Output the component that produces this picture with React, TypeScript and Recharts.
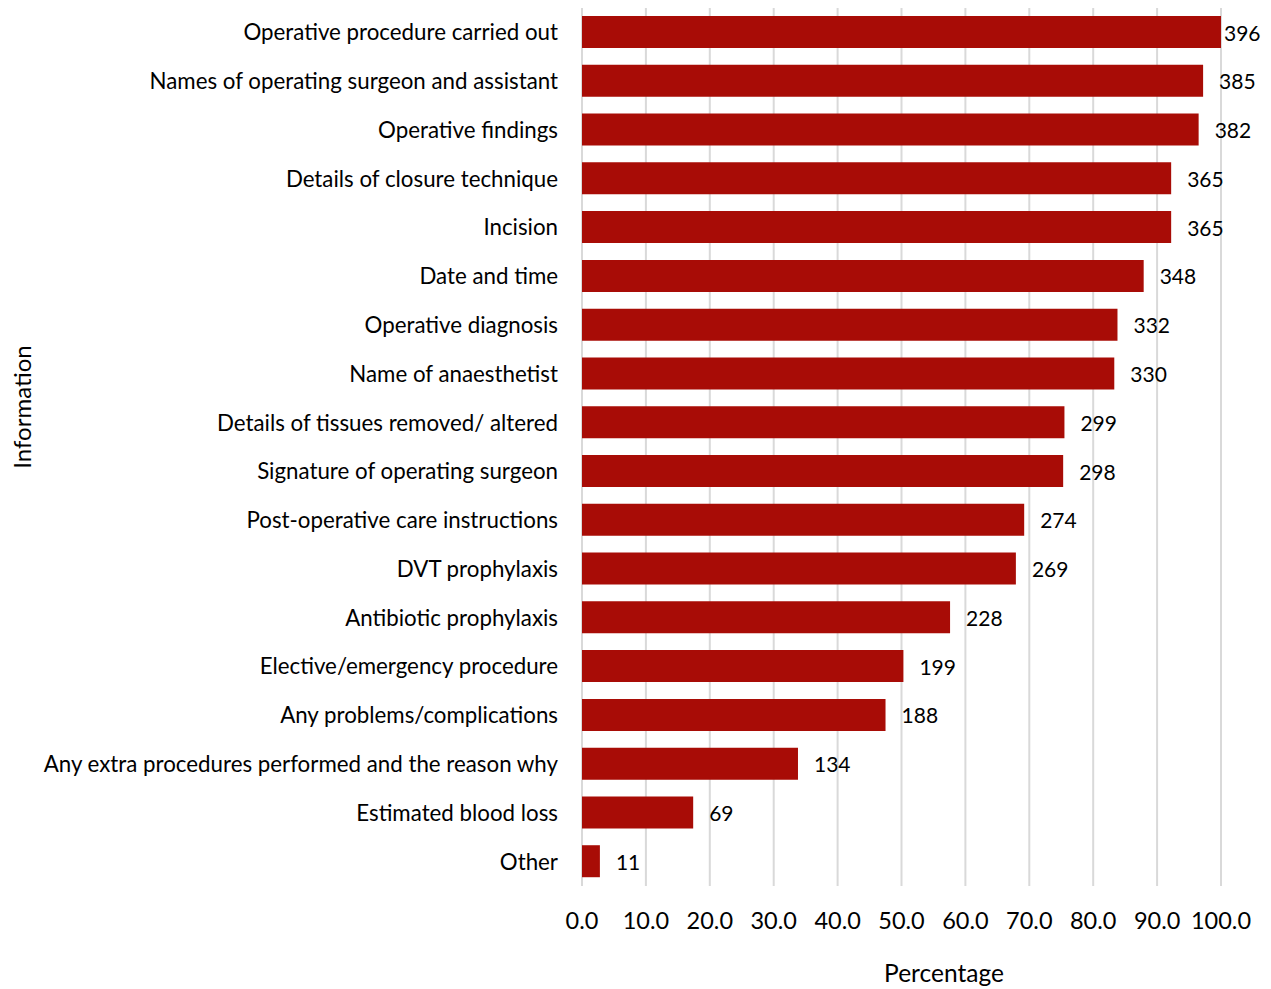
import React from 'react';
import { BarChart, Bar, XAxis, YAxis, CartesianGrid, LabelList } from 'recharts';

const categories = [
  'Operative procedure carried out',
  'Names of operating surgeon and assistant',
  'Operative findings',
  'Details of closure technique',
  'Incision',
  'Date and time',
  'Operative diagnosis',
  'Name of anaesthetist',
  'Details of tissues removed/ altered',
  'Signature of operating surgeon',
  'Post-operative care instructions',
  'DVT prophylaxis',
  'Antibiotic prophylaxis',
  'Elective/emergency procedure',
  'Any problems/complications',
  'Any extra procedures performed and the reason why',
  'Estimated blood loss',
  'Other',
];

const counts = [396, 385, 382, 365, 365, 348, 332, 330, 299, 298, 274, 269, 228, 199, 188, 134, 69, 11];

const percentages = [100, 97.2, 96.5, 92.2, 92.2, 87.9, 83.8, 83.3, 75.5, 75.3, 69.2, 67.9, 57.6, 50.3, 47.5, 33.8, 17.4, 2.8];

const xTicks = [0, 10, 20, 30, 40, 50, 60, 70, 80, 90, 100];

const data = categories.map((name, i) => ({ name, pct: percentages[i], count: counts[i] }));

const FONT = 'Lato, "Open Sans", sans-serif';
const BAR_COLOR = '#a80c06';

const CountLabel = (props: any) => {
  const { x, y, width, height, value } = props;
  const nearEdge = x + width > 1215;
  return (
    <text
      x={x + width + (nearEdge ? 3 : 16)}
      y={y + height / 2}
      dominantBaseline="central"
      fontSize={21}
      fontFamily={FONT}
      fill="#000"
    >
      {value}
    </text>
  );
};

const YTitle = () => (
  <text
    x={21}
    y={407}
    transform="rotate(-90 21 407)"
    textAnchor="middle"
    dominantBaseline="central"
    fontSize={24}
    fontFamily={FONT}
    fill="#000"
  >
    Information
  </text>
);

const XTitle = () => (
  <text
    x={944}
    y={972}
    textAnchor="middle"
    dominantBaseline="central"
    fontSize={24.5}
    fontFamily={FONT}
    fill="#000"
  >
    Percentage
  </text>
);

export default function App() {
  return (
    <div style={{ position: 'absolute', left: 0, top: 0, background: '#fff' }}>
      <BarChart
        width={1271}
        height={989}
        data={data}
        layout="vertical"
        margin={{ top: 8, right: 50, left: 0, bottom: 0 }}
        barCategoryGap={17}
      >
        <CartesianGrid horizontal={false} stroke="#d9d9d9" strokeWidth={2} />
        <XAxis
          type="number"
          domain={[0, 100]}
          ticks={xTicks}
          tickFormatter={(v: number) => v.toFixed(1)}
          axisLine={false}
          tickLine={false}
          tickSize={0}
          tickMargin={26}
          height={103}
          tick={{ fill: '#000', fontSize: 23.5, fontFamily: FONT }}
          label={<XTitle />}
        />
        <YAxis
          type="category"
          dataKey="name"
          width={582}
          axisLine={false}
          tickLine={false}
          tickSize={0}
          tickMargin={24}
          interval={0}
          tick={{ fill: '#000', fontSize: 22.3, fontFamily: FONT }}
          label={<YTitle />}
        />
        <Bar dataKey="pct" fill={BAR_COLOR} barSize={32} isAnimationActive={false}>
          <LabelList dataKey="count" content={<CountLabel />} />
        </Bar>
      </BarChart>
    </div>
  );
}
